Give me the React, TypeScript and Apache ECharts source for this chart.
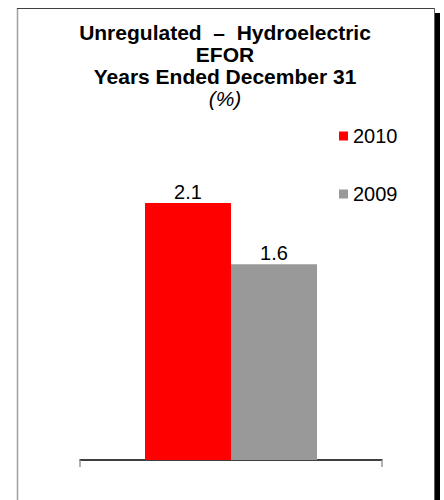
import React, { useEffect, useRef } from "react";
import * as echarts from "echarts";

const categories = [""];
const seriesNames = ["2010", "2009"];
const values2010 = [2.1];
const values2009 = [1.6];
const colors = ["#ff0000", "#999999"];
const titleLines = ["Unregulated  –  Hydroelectric", "EFOR", "Years Ended December 31"];
const unitLabel = "(%)";

const FONT = "'Liberation Sans', Arial, sans-serif";

export default function App() {
  const ref = useRef<HTMLDivElement>(null);
  useEffect(() => {
    if (!ref.current) return;
    const chart = echarts.init(ref.current, null, { renderer: "svg" });
    const labelCfg = {
      show: true,
      position: "top",
      distance: 1,
      fontSize: 20,
      color: "#000000",
      fontFamily: FONT,
      formatter: (p: any) => p.value.toFixed(1),
    };
    chart.setOption({
      animation: false,
      backgroundColor: "#ffffff",
      textStyle: { fontFamily: FONT },
      title: [
        {
          text: titleLines.join("\n"),
          left: 225,
          top: 21,
          textAlign: "center",
          padding: 0,
          textStyle: {
            fontFamily: FONT,
            fontSize: 21,
            fontWeight: "bold",
            color: "#000000",
            lineHeight: 22,
          },
        },
        {
          text: unitLabel,
          left: 225,
          top: 87,
          textAlign: "center",
          padding: 0,
          textStyle: {
            fontFamily: FONT,
            fontSize: 21,
            fontWeight: "normal",
            fontStyle: "italic",
            color: "#000000",
            lineHeight: 22,
          },
        },
      ],
      legend: {
        orient: "vertical",
        left: 339,
        top: 126,
        padding: 0,
        itemWidth: 9,
        itemHeight: 9,
        itemGap: 38,
        icon: "rect",
        data: seriesNames,
        textStyle: { fontFamily: FONT, fontSize: 20, color: "#000000", lineHeight: 20 },
      },
      grid: { left: 80, width: 302, top: 154, bottom: 40, containLabel: false },
      xAxis: {
        type: "category",
        data: categories,
        axisLine: { show: true, lineStyle: { color: "#000000", width: 1.5 } },
        axisTick: { show: true, length: 7, lineStyle: { color: "#999999", width: 1.5 } },
        axisLabel: { show: false },
      },
      yAxis: {
        type: "value",
        min: 0,
        max: 2.5,
        show: false,
        splitLine: { show: false },
      },
      series: [
        {
          name: seriesNames[0],
          type: "bar",
          data: values2010,
          barWidth: 86,
          barGap: "0%",
          itemStyle: { color: colors[0] },
          label: labelCfg,
        },
        {
          name: seriesNames[1],
          type: "bar",
          data: values2009,
          barWidth: 86,
          barGap: "0%",
          itemStyle: { color: colors[1] },
          label: labelCfg,
        },
      ],
      graphic: [
        { type: "rect", shape: { x: 435, y: 13, width: 5, height: 500 }, style: { fill: "#000000" }, silent: true },
        { type: "line", shape: { x1: 17.5, y1: 8, x2: 17.5, y2: 500 }, style: { stroke: "#a0a0a0", lineWidth: 1.5 }, silent: true },
        { type: "line", shape: { x1: 17, y1: 8.5, x2: 434.5, y2: 8.5 }, style: { stroke: "#404040", lineWidth: 1 }, silent: true },
        { type: "line", shape: { x1: 434.5, y1: 8, x2: 434.5, y2: 500 }, style: { stroke: "#606060", lineWidth: 1 }, silent: true },
      ],
    });
    return () => chart.dispose();
  }, []);
  return <div ref={ref} style={{ position: "absolute", left: 0, top: 0, width: 444, height: 500 }} />;
}
